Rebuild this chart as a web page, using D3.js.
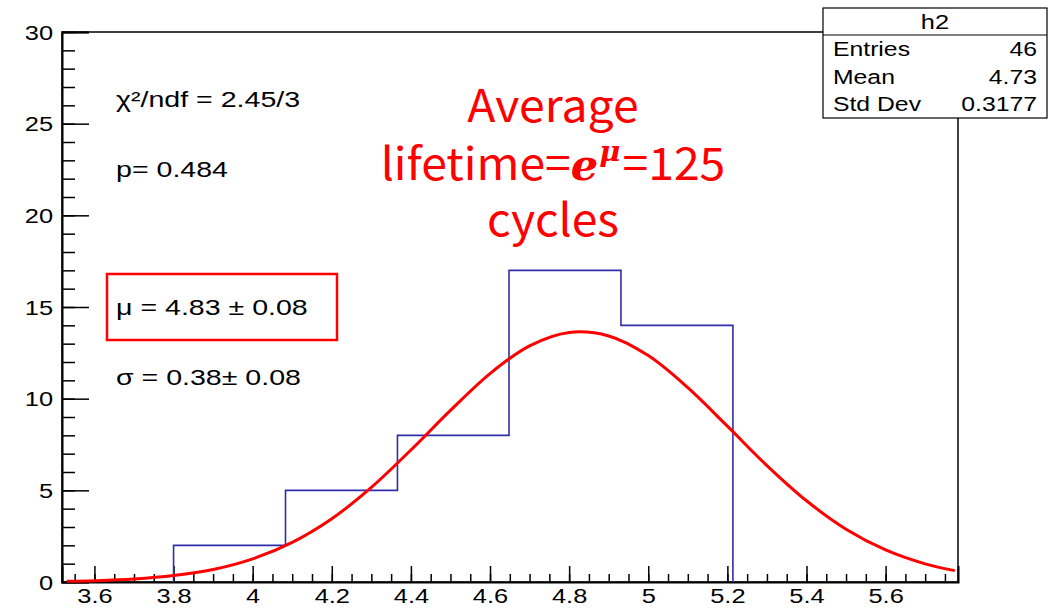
<!DOCTYPE html>
<html>
<head>
<meta charset="utf-8">
<script src="https://cdn.jsdelivr.net/npm/d3@7"></script>
<style>
  body { margin: 0; background: #fff; }
  svg text { font-family: "Liberation Sans", Arial, sans-serif; fill: #000; }
</style>
</head>
<body>
<svg id="chart" width="1053" height="608"></svg>
<script>
// histogram h2 (log of lifetime), 5 bins
var binEdges = [3.8, 4.083, 4.366, 4.648, 4.931, 5.214];
var binCounts = [2, 5, 8, 17, 14];

// gaussian fit
var fitX = [3.53, 3.6, 3.7, 3.8, 3.9, 4.0, 4.1, 4.2, 4.3, 4.4, 4.5, 4.6, 4.7, 4.8, 4.9, 5.0, 5.1, 5.2, 5.3, 5.4, 5.5, 5.6, 5.7, 5.775];
var fitY = [0.04, 0.07, 0.16, 0.35, 0.68, 1.26, 2.16, 3.45, 5.16, 7.2, 9.36, 11.37, 12.88, 13.61, 13.42, 12.35, 10.6, 8.5, 6.35, 4.43, 2.88, 1.75, 0.99, 0.62];

var xTicks = [3.6, 3.8, 4, 4.2, 4.4, 4.6, 4.8, 5, 5.2, 5.4, 5.6];
var yTicks = [0, 5, 10, 15, 20, 25, 30];

var statsTitle = "h2";
var statsLabels = ["Entries", "Mean", "Std Dev"];
var statsValues = ["46", "4.73", "0.3177"];

var fitLines = ["\u03C7\u00B2/ndf = 2.45/3", "p= 0.484", "\u03BC = 4.83 \u00B1 0.08", "\u03C3 = 0.38\u00B1 0.08"];

var chart = d3.select("#chart");

// the picture is a bit wider than tall, so text gets stretched too
var stretch = 1.27;

var plotLeft = 62, plotRight = 958, plotTop = 32, plotBottom = 582;

var x = d3.scaleLinear().domain([3.518, 5.783]).range([plotLeft, plotRight]);
var y = d3.scaleLinear().domain([0, 30]).range([plotBottom, plotTop]);

function stretched(sel, px, py) {
  sel.attr("transform", "translate(" + px + "," + py + ") scale(" + stretch + ",1)");
}

// frame
chart.append("rect")
     .attr("x", plotLeft).attr("y", plotTop)
     .attr("width", plotRight - plotLeft).attr("height", plotBottom - plotTop)
     .attr("fill", "none")
     .attr("stroke", "#000")
     .attr("stroke-width", 1.5);

// y axis: minor and major ticks, pointing inward
var yMinor = d3.range(0, 31, 1);
chart.append("g")
     .attr("transform", "translate(" + plotLeft + ",0)")
     .call(d3.axisLeft(y).tickValues(yMinor).tickSize(-13).tickFormat(""))
     .call(function(g) { g.select(".domain").remove(); })
     .selectAll("line").attr("stroke", "#000").attr("stroke-width", 1.5);

var yAxis = chart.append("g")
     .attr("transform", "translate(" + plotLeft + ",0)")
     .call(d3.axisLeft(y).tickValues(yTicks).tickSize(-27).tickFormat(d3.format("d")));
yAxis.select(".domain").attr("stroke", "#000").attr("stroke-width", 2);
yAxis.selectAll("line").attr("stroke", "#000").attr("stroke-width", 1.5);
yAxis.selectAll("text")
     .attr("x", -7)
     .attr("dy", "0.36em")
     .attr("transform", "scale(" + stretch + ",1)")
     .style("font-size", "20px")
     .style("font-family", "Liberation Sans, Arial, sans-serif");

// x axis
var xMinor = d3.range(3.55, 5.78, 0.05);
chart.append("g")
     .attr("transform", "translate(0," + plotBottom + ")")
     .call(d3.axisBottom(x).tickValues(xMinor).tickSize(-8).tickFormat(""))
     .call(function(g) { g.select(".domain").remove(); })
     .selectAll("line").attr("stroke", "#000").attr("stroke-width", 1.5);

var xAxis = chart.append("g")
     .attr("transform", "translate(0," + plotBottom + ")")
     .call(d3.axisBottom(x).tickValues(xTicks).tickSize(-16).tickFormat(function(d) { return d3.format("~g")(d); }));
xAxis.select(".domain").attr("stroke", "#000").attr("stroke-width", 2);
xAxis.selectAll("line").attr("stroke", "#000").attr("stroke-width", 1.5);
xAxis.selectAll("text")
     .attr("y", 21)
     .attr("dy", 0)
     .attr("transform", "scale(" + stretch + ",1)")
     .style("font-size", "20px")
     .style("font-family", "Liberation Sans, Arial, sans-serif");

// histogram outline as a step path
var steps = [[binEdges[0], 0]];
binCounts.forEach(function(c, i) {
  steps.push([binEdges[i], c]);
  steps.push([binEdges[i + 1], c]);
});
steps.push([binEdges[binEdges.length - 1], 0]);

chart.append("path")
     .datum(steps)
     .attr("fill", "none")
     .attr("stroke", "#2e2eaa")
     .attr("stroke-width", 1.6)
     .attr("d", d3.line().x(function(d) { return x(d[0]); }).y(function(d) { return y(d[1]); }));

// fit curve
var fitPts = fitX.map(function(v, i) { return [v, fitY[i]]; });
chart.append("path")
     .datum(fitPts)
     .attr("fill", "none")
     .attr("stroke", "#ff0000")
     .attr("stroke-width", 3)
     .attr("d", d3.line().curve(d3.curveCatmullRom.alpha(0.5))
                  .x(function(d) { return x(d[0]); })
                  .y(function(d) { return y(d[1]); }));

// fit result text
var fitYpos = [107, 177, 315, 385];
chart.selectAll(".fitText")
     .data(fitLines)
     .enter()
     .append("text")
     .attr("class", "fitText")
     .style("font-size", "22.5px")
     .text(function(d) { return d; })
     .each(function(d, i) { stretched(d3.select(this), 116, fitYpos[i]); });

chart.append("rect")
     .attr("x", 107).attr("y", 274)
     .attr("width", 230).attr("height", 66)
     .attr("fill", "none")
     .attr("stroke", "#ff0000")
     .attr("stroke-width", 2.5);

// red annotation
var note = chart.append("text")
     .attr("text-anchor", "middle")
     .attr("transform", "translate(553,0) scale(1.03,1)")
     .style("font-family", "Noto Sans CJK SC, Noto Sans, sans-serif")
     .style("font-size", "45px")
     .style("fill", "#ff0000");
note.append("tspan").attr("x", 0).attr("y", 122).style("fill", "#ff0000").text("Average");
var l2 = note.append("tspan").attr("x", 0).attr("y", 180).style("fill", "#ff0000");
l2.append("tspan").style("fill", "#ff0000").text("lifetime=");
l2.append("tspan").style("fill", "#ff0000")
  .style("font-family", "DejaVu Serif, serif").style("font-style", "italic").style("font-weight", "bold")
  .style("font-size", "42px").text("e");
l2.append("tspan").style("fill", "#ff0000")
  .style("font-family", "DejaVu Serif, serif").style("font-style", "italic").style("font-weight", "bold")
  .style("font-size", "28px").attr("dx", 1).attr("dy", -19).text("\u03BC");
l2.append("tspan").style("fill", "#ff0000").attr("dx", 2).attr("dy", 19).text("=125");
note.append("tspan").attr("x", 0).attr("y", 236).style("fill", "#ff0000").text("cycles");

// stats box
var sx = 823, sy = 8, sw = 224, sh = 110;
var stats = chart.append("g");
stats.append("rect")
     .attr("x", sx).attr("y", sy).attr("width", sw).attr("height", sh)
     .attr("fill", "#fff").attr("stroke", "#000").attr("stroke-width", 1.2);
stats.append("line")
     .attr("x1", sx).attr("x2", sx + sw)
     .attr("y1", 35).attr("y2", 35)
     .attr("stroke", "#000").attr("stroke-width", 1.2);
stats.append("text")
     .attr("text-anchor", "middle")
     .style("font-size", "20px")
     .text(statsTitle)
     .call(stretched, sx + sw / 2, 29);
stats.selectAll(".slab")
     .data(statsLabels).enter()
     .append("text")
     .attr("class", "slab")
     .style("font-size", "19.5px")
     .text(function(d) { return d; })
     .each(function(d, i) { stretched(d3.select(this), sx + 10, 56 + i * 27.5); });
stats.selectAll(".sval")
     .data(statsValues).enter()
     .append("text")
     .attr("class", "sval")
     .attr("text-anchor", "end")
     .style("font-size", "19.5px")
     .text(function(d) { return d; })
     .each(function(d, i) { stretched(d3.select(this), sx + sw - 10, 56 + i * 27.5); });
</script>
</body>
</html>
